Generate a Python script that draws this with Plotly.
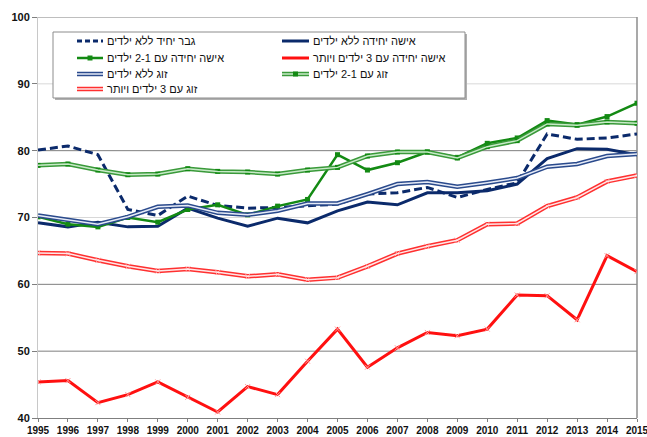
import plotly.graph_objects as go

years = [1995, 1996, 1997, 1998, 1999, 2000, 2001, 2002, 2003, 2004, 2005,
         2006, 2007, 2008, 2009, 2010, 2011, 2012, 2013, 2014, 2015]

man_single_no_kids = [80.1, 80.7, 79.4, 71.2, 70.3, 73.2, 71.8, 71.4, 71.5, 71.7, 72.0,
                      73.5, 73.7, 74.5, 73.0, 74.2, 75.2, 82.5, 81.7, 81.9, 82.5]
woman_single_no_kids = [69.2, 68.6, 69.3, 68.6, 68.7, 71.4, 69.9, 68.7, 69.9, 69.2, 71.0,
                        72.3, 71.9, 73.7, 73.7, 74.0, 75.0, 78.8, 80.3, 80.2, 79.4]
woman_single_1_2 = [70.1, 69.0, 68.6, 70.0, 69.3, 71.2, 71.9, 70.4, 71.7, 72.7, 79.4,
                    77.1, 78.2, 79.8, 79.0, 81.1, 81.9, 84.5, 83.9, 85.1, 87.1]
woman_single_3plus = [45.4, 45.6, 42.3, 43.5, 45.4, 43.1, 40.9, 44.7, 43.5, 48.5, 53.3,
                      47.6, 50.5, 52.8, 52.3, 53.3, 58.4, 58.3, 54.7, 64.3, 61.9]
couple_no_kids = [70.3, 69.6, 69.0, 70.1, 71.6, 71.8, 70.7, 70.4, 71.0, 72.1, 72.1,
                  73.5, 75.0, 75.3, 74.6, 75.2, 75.9, 77.6, 78.0, 79.2, 79.5]
couple_1_2 = [77.8, 78.0, 77.1, 76.4, 76.5, 77.3, 76.9, 76.8, 76.5, 77.1, 77.5,
              79.2, 79.8, 79.8, 78.9, 80.6, 81.5, 84.0, 83.8, 84.3, 84.1]
couple_3plus = [64.7, 64.6, 63.6, 62.7, 62.0, 62.3, 61.8, 61.2, 61.5, 60.7, 61.0,
                62.7, 64.6, 65.7, 66.6, 69.0, 69.1, 71.7, 73.0, 75.4, 76.3]

names = ["גבר יחיד ללא ילדים", "אישה יחידה ללא ילדים", "אישה יחידה עם 2-1 ילדים",
         "אישה יחידה עם 3 ילדים ויותר", "זוג ללא ילדים", "זוג עם 2-1 ילדים",
         "זוג עם 3 ילדים ויותר"]

y_ticks = [40, 50, 60, 70, 80, 90, 100]

NAVY = "#0b2a6b"
NAVY2 = "#2a4a8c"
GREEN = "#138a13"
GREEN2 = "#3a9a3a"
RED = "#ff1010"
RED2 = "#ff3030"
FONT = "Liberation Sans, Arial, sans-serif"

# plot area in pixels (for legend placement)
L, R, T, B = 38, 637, 17, 418
def px(x):
    return (x - L) / (R - L)
def py(y):
    return (B - y) / (B - T)

# series styles: (values, outer color, outer width, inner color or None, dash, marker)
styles = [
    (man_single_no_kids, NAVY, 3, None, "8px,4px", None),
    (woman_single_no_kids, NAVY, 3, None, None, None),
    (woman_single_1_2, GREEN, 2.5, None, None, "square"),
    (woman_single_3plus, RED, 3, None, None, "x"),
    (couple_no_kids, NAVY2, 4.5, "#e6ebf7", None, None),
    (couple_1_2, GREEN2, 4.5, "#c8eac8", None, "square"),
    (couple_3plus, RED2, 4.5, "#ffe8e8", None, "x"),
]

fig = go.Figure()

# grid lines
for v in y_ticks[1:]:
    col = "#d8d8d8" if v in (70, 90) else "#7f7f7f"
    fig.add_shape(type="line", xref="paper", yref="y", x0=0, x1=1, y0=v, y1=v,
                  line=dict(color=col, width=1), layer="below")
fig.add_shape(type="line", xref="paper", yref="paper", x0=1, x1=1, y0=0, y1=1,
              line=dict(color="#8c8c8c", width=1.5), layer="below")

for i, (vals, col, w, inner, dash, mk) in enumerate(styles):
    if mk == "square":
        marker = dict(symbol="square", size=5, color=GREEN)
        mode = "lines+markers"
    elif mk == "x":
        marker = dict(symbol="x-thin", size=5, line=dict(color="#ff9a9a", width=1))
        mode = "lines+markers"
    else:
        marker = None
        mode = "lines"
    line = dict(color=col, width=w)
    if dash:
        line["dash"] = dash
    fig.add_trace(go.Scatter(x=years, y=vals, mode=mode, name=names[i],
                             line=line, marker=marker, showlegend=False))
    if inner:
        fig.add_trace(go.Scatter(x=years, y=vals, mode="lines", showlegend=False,
                                 hoverinfo="skip", line=dict(color=inner, width=1.5)))

# legend box (drawn manually)
fig.add_shape(type="rect", xref="paper", yref="paper",
              x0=px(55), x1=px(467), y0=py(34), y1=py(100),
              line=dict(width=0), fillcolor="#b0b0b0", layer="below")
fig.add_shape(type="rect", xref="paper", yref="paper",
              x0=px(53), x1=px(465), y0=py(32), y1=py(98),
              line=dict(color="#8c8c8c", width=1), fillcolor="white", layer="below")

rows = [41, 58, 74, 89]
cols = [(77, 103, 105), (282, 309, 311)]
for i, (vals, col, w, inner, dash, mk) in enumerate(styles):
    r, c = divmod(i, 2)
    yy = py(rows[r])
    x0, x1, xt = cols[c]
    ln = dict(color=col, width=w)
    if dash:
        ln["dash"] = "5px,3px"
    fig.add_shape(type="line", xref="paper", yref="paper", x0=px(x0), x1=px(x1),
                  y0=yy, y1=yy, line=ln)
    if inner:
        fig.add_shape(type="line", xref="paper", yref="paper", x0=px(x0), x1=px(x1),
                      y0=yy, y1=yy, line=dict(color=inner, width=1.5))
    if mk == "square":
        fig.add_shape(type="rect", xref="paper", yref="paper",
                      xsizemode="pixel", ysizemode="pixel",
                      xanchor=px((x0 + x1) / 2), yanchor=yy,
                      x0=-2.5, x1=2.5, y0=-2.5, y1=2.5,
                      line=dict(width=0), fillcolor=GREEN)
    fig.add_annotation(xref="paper", yref="paper", x=px(xt), y=yy,
                       xanchor="left", yanchor="middle", showarrow=False,
                       text=names[i], font=dict(size=11, family=FONT, color="#111"))

fig.update_layout(
    width=647, height=437,
    margin=dict(l=L, r=647 - R, t=T, b=437 - B),
    paper_bgcolor="white", plot_bgcolor="white",
    font=dict(family=FONT, color="#111"),
    showlegend=False,
    xaxis=dict(range=[1995, 2015], tickmode="array", tickvals=years,
               ticktext=[str(y) for y in years], showgrid=False, zeroline=False,
               showline=True, linecolor="#7f7f7f", linewidth=1,
               ticks="outside", ticklen=3, tickcolor="#7f7f7f",
               tickfont=dict(size=10, family=FONT, color="#111", weight="bold"),
               tickangle=0, automargin=False, ticklabeloverflow="allow"),
    yaxis=dict(range=[40, 100], tickmode="array", tickvals=y_ticks,
               showgrid=False, zeroline=False,
               showline=True, linecolor="#c8c8c8", linewidth=1,
               ticks="outside", ticklen=5, tickcolor="#7f7f7f", automargin=False,
               tickfont=dict(size=11, family=FONT, color="#111", weight="bold")),
)

fig.write_html("out.html", config={"displayModeBar": False},
               post_script="document.body.style.margin='0';document.body.style.overflow='hidden';")
